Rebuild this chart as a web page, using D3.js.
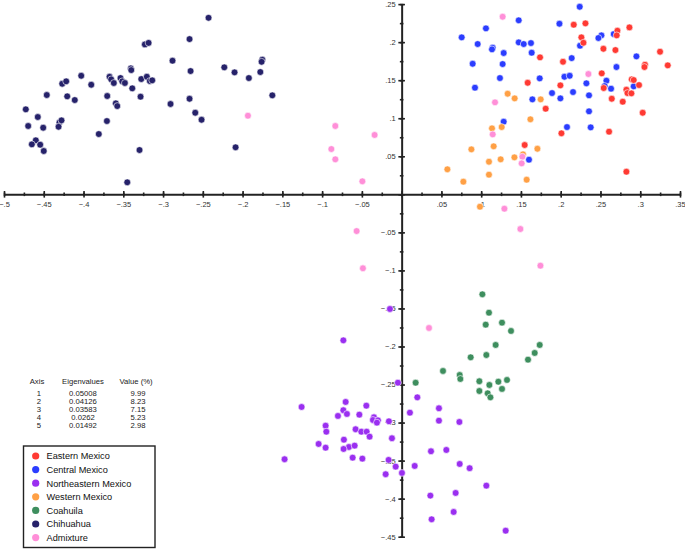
<!DOCTYPE html>
<html>
<head>
<meta charset="utf-8">
<script src="https://cdn.jsdelivr.net/npm/d3@7"></script>
<style>
  body { margin: 0; background: #fff; }
  svg { font-family: "Liberation Sans", Arial, sans-serif; }
  .axis path { stroke: #222; stroke-width: 2; }
  .axis line { stroke: #222; stroke-width: 1.6; }
  .axis text { fill: #333; font-size: 7.5px; }
  .tbl { font-size: 7.7px; fill: #222; }
  .leg { font-size: 9.2px; fill: #111; }
</style>
</head>
<body>
<svg id="chart" width="685" height="549"></svg>
<script>
// groups, in legend order
let groups = ['Eastern Mexico', 'Central Mexico', 'Northeastern Mexico', 'Western Mexico', 'Coahuila', 'Chihuahua', 'Admixture']
let colors = ['#ff3a33', '#2b3dff', '#9a2ff0', '#ffa045', '#3e8e5e', '#26226a', '#ff8fd8']

// PCA scores [axis1, axis2]
let eastern = [
  [0.2164, 0.2229], [0.2311, 0.2247], [0.2864, 0.2194], [0.2713, 0.215], [0.2704, 0.2089],
  [0.226, 0.2063], [0.2286, 0.1992], [0.2537, 0.1913], [0.2688, 0.1896], [0.3249, 0.1874],
  [0.174, 0.18], [0.2029, 0.1742], [0.306, 0.1703], [0.3053, 0.1673], [0.3346, 0.1695],
  [0.2516, 0.159], [0.1585, 0.1466], [0.1996, 0.1432], [0.2893, 0.1511], [0.2918, 0.1502],
  [0.2985, 0.1436], [0.2541, 0.1397], [0.2826, 0.1374], [0.2839, 0.1331], [0.2889, 0.1327],
  [0.2642, 0.1256], [0.278, 0.1217], [0.1811, 0.1125], [0.3031, 0.1072], [0.2009, 0.0802],
  [0.2608, 0.0823], [0.1547, 0.0648], [0.2826, 0.0297]
]
let central = [
  [0.2239, 0.2465], [0.1472, 0.2287], [0.1984, 0.2242], [0.106, 0.2181], [0.0755, 0.2063],
  [0.0956, 0.1975], [0.1145, 0.1926], [0.1136, 0.1905], [0.1283, 0.1857], [0.1472, 0.1997],
  [0.1535, 0.1975], [0.1626, 0.1988], [0.1635, 0.1861], [0.2512, 0.2089], [0.2474, 0.2054],
  [0.2667, 0.2106], [0.2243, 0.1953], [0.0893, 0.1716], [0.127, 0.1712], [0.2138, 0.179],
  [0.2952, 0.1813], [0.2701, 0.1673], [0.1236, 0.1528], [0.1736, 0.1524], [0.2047, 0.1545],
  [0.2113, 0.1558], [0.0922, 0.1401], [0.2323, 0.1459], [0.2575, 0.1493], [0.2553, 0.1423],
  [0.2633, 0.1388], [0.2918, 0.1419], [0.1891, 0.1331], [0.2155, 0.1344], [0.1996, 0.1261],
  [0.2356, 0.1301], [0.1644, 0.1248], [0.2356, 0.1091], [0.1283, 0.0954], [0.2079, 0.0884],
  [0.2377, 0.088], [0.1601, 0.0455]
]
let northeastern = [
  [-0.0147, -0.1507], [-0.0733, -0.1919], [-0.0047, -0.2476], [0.0197, -0.2668], [0.0469, -0.2812],
  [0.0104, -0.287], [0.0469, -0.2975], [0.0726, -0.2992], [-0.016, -0.2983], [-0.1258, -0.2795],
  [-0.0704, -0.2729], [-0.0444, -0.2778], [-0.0733, -0.2838], [-0.0688, -0.2887], [-0.0801, -0.2913],
  [-0.0532, -0.2896], [-0.0348, -0.293], [-0.0361, -0.2966], [-0.0298, -0.297], [-0.0311, -0.3001],
  [-0.0956, -0.3041], [-0.0947, -0.312], [-0.0579, -0.3088], [-0.0507, -0.312], [-0.044, -0.312],
  [-0.0403, -0.3185], [-0.0726, -0.3225], [-0.0122, -0.3206], [-0.1044, -0.3281], [-0.0956, -0.333],
  [-0.0663, -0.3321], [-0.0591, -0.3303], [-0.073, -0.3347], [-0.0616, -0.3461], [-0.0494, -0.3474],
  [-0.1472, -0.3482], [-0.0164, -0.3491], [-0.0075, -0.3579], [-0.0201, -0.3679], [0.0004, -0.3662],
  [0.0164, -0.357], [0.0369, -0.3377], [0.0562, -0.336], [0.073, -0.3544], [0.0855, -0.36],
  [0.1065, -0.3829], [0.0361, -0.396], [0.0679, -0.3925], [0.0654, -0.4175], [0.0377, -0.4271],
  [0.1308, -0.4421]
]
let western = [
  [0.1333, 0.1322], [0.1421, 0.1261], [0.1748, 0.1248], [0.1619, 0.0986], [0.1136, 0.0867],
  [0.1258, 0.0884], [0.1157, 0.0631], [0.0877, 0.0591], [0.1707, 0.0599], [0.1418, 0.0486],
  [0.1526, 0.0526], [0.1245, 0.046], [0.1098, 0.0428], [0.0575, 0.0329], [0.1098, 0.0258],
  [0.0776, 0.0166], [0.1572, 0.0192], [0.0985, -0.0163]
]
let coahuila = [
  [0.1015, -0.1314], [0.1098, -0.1556], [0.1057, -0.1713], [0.1262, -0.1687], [0.1375, -0.1796],
  [0.1182, -0.198], [0.1065, -0.2112], [0.0868, -0.2142], [0.1736, -0.198], [0.1673, -0.2085],
  [0.1589, -0.2173], [0.052, -0.2322], [0.073, -0.2375], [0.0738, -0.2427], [0.0977, -0.2457],
  [0.1325, -0.244], [0.1216, -0.2463], [0.1103, -0.2506], [0.1262, -0.2558], [0.0977, -0.2585],
  [0.1082, -0.2615], [0.1116, -0.2668], [0.0176, -0.2476]
]
let chihuahua = [
  [-0.2428, 0.232], [-0.2667, 0.204], [-0.3229, 0.197], [-0.3182, 0.199], [-0.2881, 0.1756],
  [-0.3405, 0.1656], [-0.34, 0.1633], [-0.1752, 0.1769], [-0.1761, 0.1742], [-0.223, 0.1669],
  [-0.2101, 0.1603], [-0.2654, 0.162], [-0.1777, 0.1607], [-0.1921, 0.1528], [-0.4029, 0.1558],
  [-0.3903, 0.144], [-0.4268, 0.1453], [-0.4218, 0.1485], [-0.3673, 0.1545], [-0.3652, 0.1511],
  [-0.3619, 0.1463], [-0.3535, 0.1528], [-0.3513, 0.1485], [-0.348, 0.1463], [-0.3274, 0.1515],
  [-0.3204, 0.1545], [-0.3166, 0.1489], [-0.3136, 0.1498], [-0.3387, 0.1393], [-0.4462, 0.1305],
  [-0.4205, 0.1288], [-0.411, 0.1239], [-0.3702, 0.1292], [-0.3283, 0.1283], [-0.2667, 0.1256],
  [-0.2906, 0.1187], [-0.1626, 0.1301], [-0.3594, 0.1196], [-0.3576, 0.116], [-0.2595, 0.1072],
  [-0.2516, 0.098], [-0.4726, 0.1117], [-0.4575, 0.1016], [-0.4696, 0.0898], [-0.4507, 0.0875],
  [-0.4302, 0.0946], [-0.4277, 0.0972], [-0.4314, 0.0888], [-0.3706, 0.0963], [-0.3808, 0.0792],
  [-0.46, 0.071], [-0.465, 0.0657], [-0.4545, 0.0652], [-0.45, 0.0569], [-0.3296, 0.0582],
  [-0.2088, 0.0618], [-0.345, 0.0158]
]
let admixture = [
  [-0.1933, 0.1033], [-0.0834, 0.0898], [-0.0884, 0.0595], [-0.0834, 0.046], [-0.0494, 0.0171],
  [-0.034, 0.078], [-0.0566, -0.0483], [-0.0487, -0.0972], [0.1292, -0.0189], [0.1493, -0.0456],
  [0.1745, -0.0938], [0.0344, -0.1757], [0.127, 0.2334], [0.2348, 0.1581], [0.1174, 0.1209],
  [0.1145, 0.0788], [0.1518, 0.0494], [0.1509, 0.0407]
]
let series = [eastern, central, northeastern, western, coahuila, chihuahua, admixture]

// eigenvalue table
let tableHead = ['Axis', 'Eigenvalues', 'Value (%)']
let axisNums = ['1', '2', '3', '4', '5']
let eigenvalues = ['0.05008', '0.04126', '0.03583', '0.0262', '0.01492']
let percents = ['9.99', '8.23', '7.15', '5.23', '2.98']

let xTicks = d3.range(-10, 8).map(d => d * 0.05)
let yTicks = d3.range(-9, 6).map(d => d * 0.05)
let xMinor = d3.range(-20, 15).map(d => d * 0.025)
let yMinor = d3.range(-18, 11).map(d => d * 0.025)

let svg = d3.select('#chart')

let x = d3.scaleLinear().domain([-0.5, 0.35]).range([4, 680])
let y = d3.scaleLinear().domain([-0.45, 0.25]).range([536.7, 4.1])

let fmt = d => Math.abs(d) < 1e-9 ? '' : d3.format('.2~f')(d).replace('0.', '.')

// x axis: minor ticks, then major ticks with labels
let gx = svg.append('g').attr('class', 'axis').attr('transform', `translate(0,${y(0)})`)
gx.call(d3.axisBottom(x).tickValues(xMinor).tickSize(0).tickFormat(''))
gx.selectAll('.tick line').attr('y1', -1.8).attr('y2', 1.8)
let gxMaj = gx.append('g').call(d3.axisBottom(x).tickValues(xTicks).tickSize(0).tickFormat(fmt))
gxMaj.select('.domain').remove()
gxMaj.selectAll('.tick line').attr('y1', -3.3).attr('y2', 3.3)
gxMaj.selectAll('.tick text').attr('y', 7.5).attr('dy', '0.71em')
gx.selectAll('text').attr('font-size', 7.5).attr('font-family', null).attr('fill', '#333')

// y axis
let gy = svg.append('g').attr('class', 'axis').attr('transform', `translate(${x(0)},0)`)
gy.call(d3.axisLeft(y).tickValues(yMinor).tickSize(0).tickFormat(''))
gy.selectAll('.tick line').attr('x1', -1.8).attr('x2', 1.8)
let gyMaj = gy.append('g').call(d3.axisLeft(y).tickValues(yTicks).tickSize(0).tickFormat(fmt))
gyMaj.select('.domain').remove()
gyMaj.selectAll('.tick line').attr('x1', -3.3).attr('x2', 3.3)
gyMaj.selectAll('.tick text').attr('x', -6)
gy.selectAll('text').attr('font-size', 7.5).attr('font-family', null).attr('fill', '#333')

// points
let drawOrder = [1, 0, 3, 2, 4, 5, 6]
drawOrder.forEach(i => {
  svg.append('g')
    .selectAll('circle')
    .data(series[i])
    .enter()
    .append('circle')
    .attr('cx', d => x(d[0]))
    .attr('cy', d => y(d[1]))
    .attr('r', 3.4)
    .attr('fill', colors[i])
    .attr('stroke', '#fff')
    .attr('stroke-width', 0.6)
})

// table
let colX = [37, 83, 136]
let tbl = svg.append('g')
tbl.selectAll('.th')
  .data(tableHead)
  .enter()
  .append('text')
  .attr('class', 'tbl')
  .attr('x', (d, i) => colX[i])
  .attr('y', 384)
  .attr('text-anchor', 'middle')
  .text(d => d)
;[axisNums, eigenvalues, percents].forEach((col, ci) => {
  tbl.selectAll('.c' + ci)
    .data(col)
    .enter()
    .append('text')
    .attr('class', 'tbl')
    .attr('x', colX[ci] + (ci === 1 ? 0 : 2))
    .attr('y', (d, i) => 396 + i * 8)
    .attr('text-anchor', 'middle')
    .text(d => d)
})

// legend
let leg = svg.append('g')
leg.append('rect')
  .attr('x', 23.5)
  .attr('y', 446)
  .attr('width', 131.5)
  .attr('height', 101.5)
  .attr('fill', '#fff')
  .attr('stroke', '#222')
  .attr('stroke-width', 1.4)

let rows = leg.selectAll('.leg-row')
  .data(groups)
  .enter()
  .append('g')
  .attr('transform', (d, i) => `translate(0,${456 + i * 13.6})`)

rows.append('circle')
  .attr('cx', 35.7)
  .attr('cy', 0)
  .attr('r', 3.6)
  .attr('fill', (d, i) => colors[i])

rows.append('text')
  .attr('class', 'leg')
  .attr('x', 46.5)
  .attr('y', 3.3)
  .text(d => d)
</script>
</body>
</html>
